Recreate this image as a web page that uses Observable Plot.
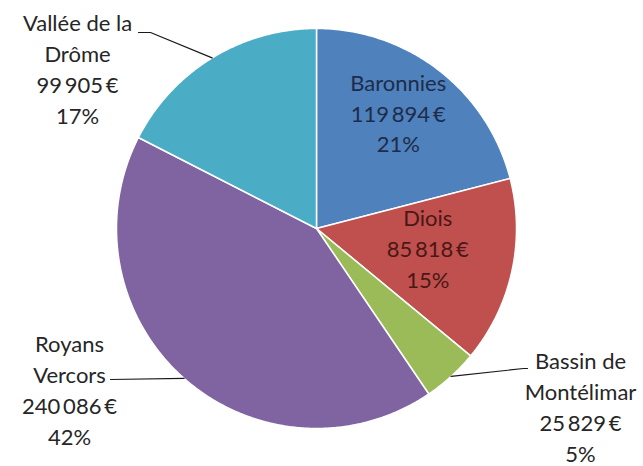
<!DOCTYPE html>
<html>
<head>
<meta charset="utf-8">
<script src="https://cdn.jsdelivr.net/npm/d3@7"></script>
<script src="https://cdn.jsdelivr.net/npm/@observablehq/plot@0.6"></script>
<style>
  html, body { margin: 0; padding: 0; background: #fff; }
</style>
</head>
<body>
<div id="chart"></div>
<script>
// ---- data ----
const regions = ["Baronnies", "Diois", "Bassin de Montélimar", "Royans Vercors", "Vallée de la Drôme"];
const labelNames = ["Baronnies", "Diois", "Bassin de\nMontélimar", "Royans\nVercors", "Vallée de la\nDrôme"];
const amounts = [119894, 85818, 25829, 240086, 99905];
const sliceColors = ["#4F81BD", "#C0504D", "#9BBB59", "#8064A2", "#4BACC6"];

// ---- layout ----
const W = 643, H = 466, CX = 316, CY = 228, R = 200;
const FONT = "Lato, 'Open Sans', sans-serif";
const insideLabels = {
  "Baronnies": {k: 0.70, dx: -4, dy: -6, color: "#1d2c4a"},
  "Diois": {k: 0.57, dx: 0, dy: -6, color: "#4a1716"}
};
const outsideLabels = {
  "Vallée de la Drôme": {tx: 77, ty: 67, leader: [[150, 32], [138, 32]]},
  "Royans Vercors": {tx: 69, ty: 388, leader: [[110, 379]]},
  "Bassin de Montélimar": {tx: 580, ty: 405, leader: [[523, 368], [527, 368]]}
};

const total = d3.sum(amounts);
const euro = v => d3.format(",")(v).replace(/,/g, "\u2009") + "\u2009€";
const pct = v => Math.round(v / total * 100) + "%";
const pt = (a, r) => [CX + r * Math.sin(a), CY - r * Math.cos(a)];

const arcs = d3.pie().sort(null).value(d => d)(amounts);

// slice polygons
const slicePts = [];
arcs.forEach((a, i) => {
  const region = regions[i];
  slicePts.push({region, x: CX, y: CY});
  const n = Math.max(2, Math.ceil((a.endAngle - a.startAngle) / (Math.PI / 360)));
  for (let k = 0; k <= n; k++) {
    const ang = a.startAngle + (a.endAngle - a.startAngle) * k / n;
    const [x, y] = pt(ang, R);
    slicePts.push({region, x, y});
  }
  slicePts.push({region, x: CX, y: CY});
});

// labels and leaders
const labels = [];
const leaders = [];
arcs.forEach((a, i) => {
  const region = regions[i];
  const mid = (a.startAngle + a.endAngle) / 2;
  const text = labelNames[i] + "\n" + euro(amounts[i]) + "\n" + pct(amounts[i]);
  if (insideLabels[region]) {
    const L = insideLabels[region];
    const [x, y] = pt(mid, L.k * R);
    labels.push({region, x: x + L.dx, y: y + L.dy, text, color: L.color});
  } else {
    const o = outsideLabels[region];
    labels.push({region, x: o.tx, y: o.ty, text, color: "#262626"});
    const [ex, ey] = pt(mid, R);
    leaders.push({region, x: ex, y: ey});
    o.leader.forEach(([x, y]) => leaders.push({region, x, y}));
  }
});

const textMarks = d3.groups(labels, d => d.color).map(([color, rows]) =>
  Plot.text(rows, {
    x: "x", y: "y", text: "text",
    fill: color, fontSize: 22, lineHeight: 1.4,
    fontFamily: FONT, textAnchor: "middle", lineAnchor: "middle"
  })
);

const chart = Plot.plot({
  width: W, height: H,
  margin: 0,
  x: {domain: [0, W], range: [0, W], axis: null},
  y: {domain: [0, H], range: [0, H], axis: null},
  color: {domain: regions, range: sliceColors},
  style: {background: "#fff", fontFamily: FONT},
  marks: [
    Plot.line(slicePts, {x: "x", y: "y", z: "region", fill: "region", stroke: "white", strokeWidth: 1.5, curve: "linear", strokeLinejoin: "round"}),
    Plot.line(leaders, {x: "x", y: "y", z: "region", stroke: "#1a1a1a", strokeWidth: 1.2, curve: "linear"}),
    ...textMarks
  ]
});
document.getElementById("chart").appendChild(chart);
</script>
</body>
</html>
